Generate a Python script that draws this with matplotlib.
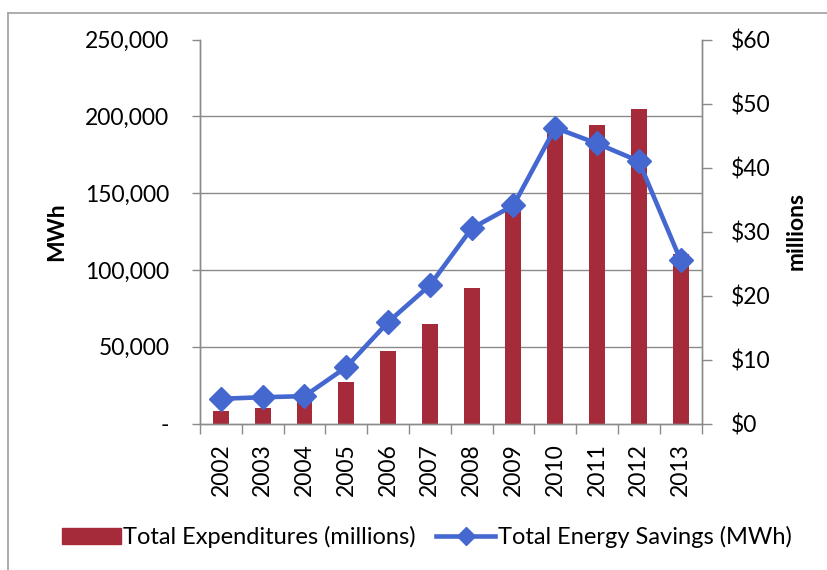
import matplotlib
matplotlib.use("Agg")
import matplotlib.pyplot as plt
import numpy as np
from matplotlib.ticker import FuncFormatter, FixedLocator
from matplotlib.patches import Patch
from matplotlib.lines import Line2D

plt.rcParams['font.family'] = ['Lato', 'DejaVu Sans']

years = ['2002', '2003', '2004', '2005', '2006', '2007', '2008', '2009',
         '2010', '2011', '2012', '2013']
expenditures = [1.9, 2.5, 3.8, 6.5, 11.3, 15.6, 21.1, 34.7, 46.0, 46.7, 49.2, 26.5]
savings = [16100, 17100, 17800, 36700, 66000, 90000, 127000, 142000,
           192500, 182300, 170800, 106300]
left_ticks = [0, 50000, 100000, 150000, 200000, 250000]
right_ticks = [0, 10, 20, 30, 40, 50, 60]

bar_color = '#a52a3a'
line_color = '#4467d0'
axis_color = '#8a8a8a'
grid_color = '#8a8a8a'

W, H = 827, 570
fig = plt.figure(figsize=(W / 100, H / 100), dpi=100)
fig.patch.set_facecolor('white')

left, right, top, bottom = 200, 701.5, 39.5, 423.5
aw = right - left
ax_line = fig.add_axes([left / W, 1 - bottom / H, aw / W, (bottom - top) / H])
ax_bar = ax_line.twinx()
ax_line.set_zorder(ax_bar.get_zorder() + 1)
ax_line.patch.set_visible(False)

x = np.arange(len(years))

# bars (right axis, millions)
ax_bar.bar(x, expenditures, width=0.38, color=bar_color, zorder=2)
ax_bar.set_ylim(0, 60)
ax_bar.yaxis.set_major_locator(FixedLocator(right_ticks))
ax_bar.yaxis.set_major_formatter(FuncFormatter(lambda v, p: f'${v:.0f}'))
# gridlines aligned with left axis ticks
grid_pos = [60 * t / left_ticks[-1] for t in left_ticks]
ax_bar.yaxis.set_minor_locator(FixedLocator(grid_pos))
ax_bar.grid(True, which='minor', axis='y', color=grid_color, linewidth=1.0, zorder=0)
ax_bar.set_axisbelow(True)
ax_bar.tick_params(axis='y', which='major', direction='out', length=7, width=1,
                   color=axis_color, labelsize=16.5, pad=14)
ax_bar.tick_params(axis='y', which='minor', length=0)
ax_bar.set_ylabel('millions', fontsize=16.5, fontweight='bold')
ax_bar.yaxis.set_label_coords((786 - left) / aw, 0.5)

# line (left axis, MWh)
ax_line.plot(x, savings, color=line_color, linewidth=3.3, marker='D',
             markersize=12, markerfacecolor=line_color, markeredgecolor=line_color,
             zorder=5, clip_on=False)
ax_line.set_ylim(0, 250000)
ax_line.yaxis.set_major_locator(FixedLocator(left_ticks))
ax_line.yaxis.set_major_formatter(FuncFormatter(lambda v, p: '-' if v == 0 else f'{v:,.0f}'))
ax_line.tick_params(axis='y', direction='out', length=6, width=1, color=axis_color,
                    labelsize=16.5, pad=16)
ax_line.set_ylabel('MWh', fontsize=16.5, fontweight='bold')
ax_line.yaxis.set_label_coords((67 - left) / aw, 0.5)

ax_line.set_xlim(-0.5, len(years) - 0.5)
ax_line.set_xticks(x)
ax_line.set_xticklabels(years, rotation=90, fontsize=16.5)
ax_line.set_xticks(np.arange(-0.5, len(years)), minor=True)
ax_line.tick_params(axis='x', which='major', length=0, pad=14)
ax_line.tick_params(axis='x', which='minor', direction='out', length=7, width=1,
                    color=axis_color)

for a in (ax_line, ax_bar):
    for s in ['left', 'right', 'bottom']:
        a.spines[s].set_color(axis_color)
        a.spines[s].set_linewidth(1.0)
    a.spines['top'].set_visible(False)

# legend
handles = [Patch(facecolor=bar_color, edgecolor=bar_color),
           Line2D([0], [0], color=line_color, linewidth=3.3, marker='D',
                  markersize=9, markerfacecolor=line_color)]
labels = ['Total Expenditures (millions)', 'Total Energy Savings (MWh)']
fig.legend(handles, labels, loc='center', bbox_to_anchor=(0.516, 1 - 537 / H),
           ncol=2, frameon=False, fontsize=17, handlelength=2.5,
           handletextpad=0.12, columnspacing=0.85)

# outer chart frame
fig.add_artist(Line2D([8 / W, 8 / W], [0, 1 - 12.5 / H], transform=fig.transFigure,
                      color='#a0a0a0', linewidth=1.2))
fig.add_artist(Line2D([8 / W, 1], [1 - 12.5 / H, 1 - 12.5 / H], transform=fig.transFigure,
                      color='#a0a0a0', linewidth=1.2))

fig.savefig('out.png', dpi=100, facecolor='white')
